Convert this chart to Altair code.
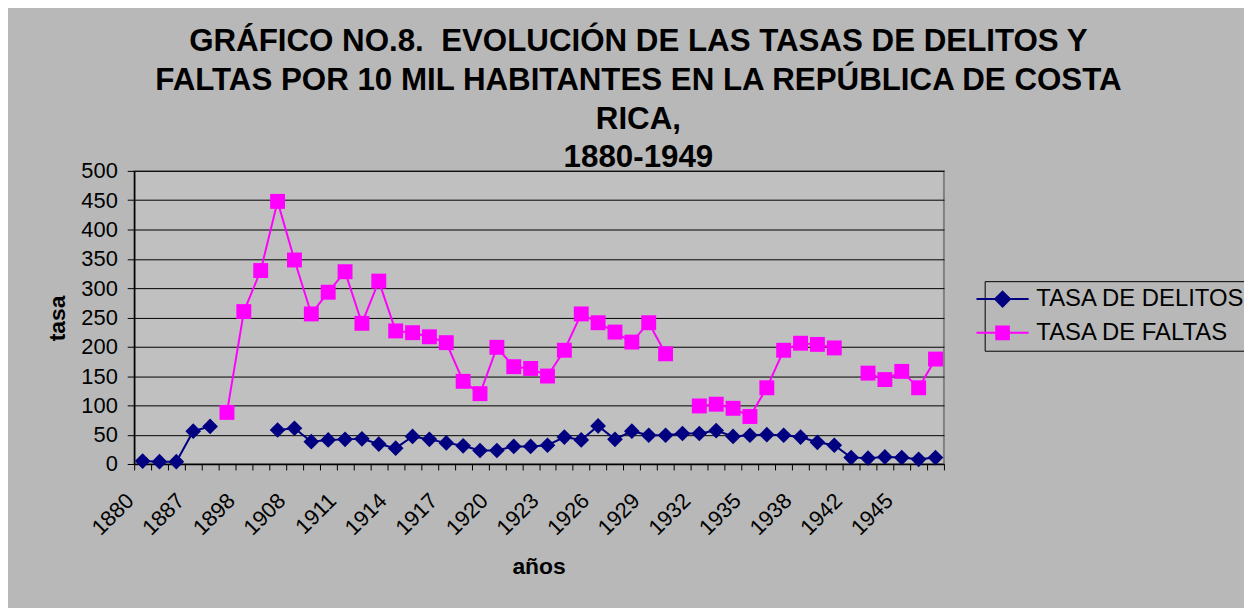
import altair as alt
import pandas as pd

years = ["1880", "1882", "1885", "1887", "1890", "1895", "1898", "1900", "1905",
         "1908", "1909", "1910", "1911", "1912", "1913", "1914", "1915", "1916",
         "1917", "1918", "1919", "1920", "1921", "1922", "1923", "1924", "1925",
         "1926", "1927", "1928", "1929", "1930", "1931", "1932", "1933", "1934",
         "1935", "1936", "1937", "1938", "1939", "1940", "1942", "1943", "1944",
         "1945", "1946", "1947"]

tick_labels = ["1880", "1887", "1898", "1908", "1911", "1914", "1917", "1920",
               "1923", "1926", "1929", "1932", "1935", "1938", "1942", "1945"]

delitos = [5, 4, 4, 56, 64, None, None, None, 58, 61, 38, 41, 42, 43, 34, 27,
           47, 42, 36, 31, 23, 23, 30, 30, 32, 46, 41, 65, 42, 56, 49, 49, 52,
           52, 57, 47, 49, 50, 49, 46, 37, 32, 11, 10, 12, 11, 8, 11]

faltas = [None, None, None, None, None, 88, 260, 330, 448, 348, 256, 293, 328,
          240, 312, 227, 224, 217, 207, 141, 120, 199, 166, 163, 150, 194, 256,
          241, 225, 208, 241, 188, None, 99, 102, 95, 81, 130, 194, 206, 204,
          198, None, 155, 144, 158, 130, 179]

series = ["TASA DE DELITOS", "TASA DE FALTAS"]
colors = ["#000080", "#FF00FF"]
y_ticks = [0, 50, 100, 150, 200, 250, 300, 350, 400, 450, 500]

title_lines = ["GRÁFICO NO.8.\u00a0 EVOLUCIÓN DE LAS TASAS DE DELITOS Y",
               "FALTAS POR 10 MIL HABITANTES EN LA REPÚBLICA DE COSTA",
               "RICA,",
               "1880-1949"]

rows = []
for name, vals, tag in [(series[0], delitos, "D"), (series[1], faltas, "F")]:
    seg = 0
    for yr, v in zip(years, vals):
        if v is None:
            seg += 1
            continue
        rows.append({"year": yr, "serie": name, "value": v, "seg": f"{tag}{seg}"})
df = pd.DataFrame(rows)

FONT = "Liberation Sans"

label_list = ",".join(f"'{t}'" for t in tick_labels)
x_enc = alt.X(
    "year:O", sort=years,
    scale=alt.Scale(type="band", paddingInner=0, paddingOuter=0, domain=years),
    axis=alt.Axis(
        title="años", titleFont=FONT, titleFontSize=23, titleFontWeight="bold",
        titleColor="black", titleX=407, titleY=103, titleBaseline="middle",
        titleAlign="center",
        labelAngle=-45, labelAlign="right", labelBaseline="middle",
        labelFont=FONT, labelFontSize=22, labelColor="black",
        labelPadding=27, labelOffset=-13, labelOverlap=False,
        labelExpr=f"indexof([{label_list}], datum.label) >= 0 ? datum.label : ''",
        tickBand="extent", tickSize=6, tickColor="black", tickWidth=1,
        domainColor="black", domainWidth=1.5, grid=False,
    ),
)
y_enc = alt.Y(
    "value:Q",
    scale=alt.Scale(domain=[0, 500], nice=False, zero=True),
    axis=alt.Axis(
        title="tasa", titleFont=FONT, titleFontSize=23, titleFontWeight="bold",
        titleColor="black", titleX=-77, titleY=148, titleAlign="center",
        titleBaseline="middle", titleAngle=-90,
        values=y_ticks, labelFont=FONT, labelFontSize=22, labelColor="black",
        labelPadding=10, tickSize=7, tickColor="black", domainColor="black",
        domainWidth=1.5, grid=True, gridColor="black", gridWidth=1,
        gridOpacity=1,
    ),
)

base = alt.Chart(df)
shapes = ["diamond", "square"]
sizes = [250, 225]

layers = []
for name, col in zip(series, colors):
    layers.append(
        base.transform_filter(alt.datum.serie == name)
        .mark_line(strokeWidth=2, color=col)
        .encode(x=x_enc, y=y_enc, detail="seg:N")
    )
for name, col, shp, sz in zip(series, colors, shapes, sizes):
    layers.append(
        base.transform_filter(alt.datum.serie == name)
        .mark_point(shape=shp, filled=True, size=sz, opacity=1, color=col)
        .encode(x=x_enc, y=y_enc)
    )

leg_paths = ["M-3.5,0H3.5M0,-1L1,0L0,1L-1,0Z",
             "M-3.5,0H3.5M-0.85,-0.85H0.85V0.85H-0.85Z"]


def make_legend():
    return alt.Legend(
        title=None, orient="none", legendX=856, legendY=111,
        labelFont=FONT, labelFontSize=24, labelColor="black", labelLimit=0,
        labelOffset=22, symbolSize=225, symbolStrokeWidth=2,
        symbolOpacity=1, strokeColor="black", padding=6, rowPadding=10,
    )


# legend-only layer: no rows drawn, entries come from the explicit scale domain
layers.append(
    base.transform_filter("false").mark_point(filled=True, strokeWidth=2).encode(
        x=x_enc, y=y_enc,
        fill=alt.Fill("serie:N", scale=alt.Scale(domain=series, range=colors), legend=make_legend()),
        stroke=alt.Stroke("serie:N", scale=alt.Scale(domain=series, range=colors), legend=make_legend()),
        shape=alt.Shape("serie:N", scale=alt.Scale(domain=series, range=leg_paths), legend=make_legend()),
    )
)

chart = alt.layer(*layers).properties(
    width=815, height=295,
    autosize=alt.AutoSizeParams(type="none"),
    padding={"left": 127, "top": 162, "right": 302, "bottom": 143},
    title=alt.Title(
        text=title_lines, font=FONT, fontSize=31.5, fontWeight="bold",
        color="black", anchor="middle", dx=100, offset=-14, lineHeight=39,
    ),
    background="#B8B8B8",
).configure_view(fill="#C0C0C0", stroke="#808080", strokeWidth=2)

chart.save("out.html", embed_options={"renderer": "svg", "actions": False})
